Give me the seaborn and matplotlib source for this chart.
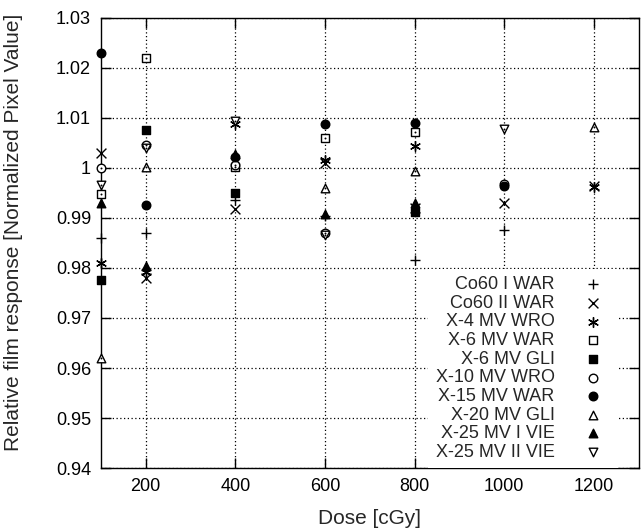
import matplotlib
matplotlib.use("Agg")
import matplotlib.pyplot as plt
from matplotlib.ticker import FormatStrFormatter
import seaborn as sns

# dose points and relative response for each beam / centre
co60_1_dose = [100, 200, 400, 600, 800, 1000]
co60_1_resp = [0.986, 0.987, 0.9936, 0.9903, 0.9816, 0.9876]

co60_2_dose = [100, 200, 400, 600, 800, 1000, 1200]
co60_2_resp = [1.003, 0.978, 0.9918, 1.001, 0.992, 0.993, 0.9963]

x4_wro_dose = [100, 200, 400, 600, 800, 1200]
x4_wro_resp = [0.981, 0.9792, 1.0088, 1.0016, 1.0044, 0.9962]

x6_war_dose = [100, 200, 400, 600, 800]
x6_war_resp = [0.9948, 1.022, 1.0002, 1.006, 1.0072]

x6_gli_dose = [100, 200, 400, 800]
x6_gli_resp = [0.9776, 1.0076, 0.995, 0.9912]

x10_wro_dose = [100, 200, 400, 600, 1000]
x10_wro_resp = [1.0, 1.0046, 1.0005, 0.987, 0.9967]

x15_war_dose = [100, 200, 400, 600, 800, 1000]
x15_war_resp = [1.023, 0.9926, 1.0022, 1.0088, 1.009, 0.9963]

x20_gli_dose = [100, 200, 600, 800, 1200]
x20_gli_resp = [0.962, 1.0002, 0.996, 0.9994, 1.0082]

x25_1_dose = [100, 200, 400, 600, 800]
x25_1_resp = [0.993, 0.9804, 1.0027, 0.9908, 0.993]

x25_2_dose = [100, 200, 400, 600, 1000]
x25_2_resp = [0.9966, 1.004, 1.0094, 0.9866, 1.0078]

labels = ["Co60 I WAR", "Co60 II WAR", "X-4 MV WRO", "X-6 MV WAR", "X-6 MV GLI",
          "X-10 MV WRO", "X-15 MV WAR", "X-20 MV GLI", "X-25 MV I VIE", "X-25 MV II VIE"]

series = [
    (co60_1_dose, co60_1_resp, "+", None),
    (co60_2_dose, co60_2_resp, "x", None),
    (x4_wro_dose, x4_wro_resp, (6, 2, 0), None),
    (x6_war_dose, x6_war_resp, "s", "white"),
    (x6_gli_dose, x6_gli_resp, "s", "black"),
    (x10_wro_dose, x10_wro_resp, "o", "white"),
    (x15_war_dose, x15_war_resp, "o", "black"),
    (x20_gli_dose, x20_gli_resp, "^", "white"),
    (x25_1_dose, x25_1_resp, "^", "black"),
    (x25_2_dose, x25_2_resp, "v", "white"),
]

sns.set_theme(style="ticks")
plt.rcParams["font.family"] = ["Liberation Sans", "DejaVu Sans"]

fig = plt.figure(figsize=(6.42, 5.29), dpi=100)
ax = fig.add_axes([0.157, 0.1153, 0.838, 0.8507])

for lab, (x, y, m, fc) in zip(labels, series):
    kw = dict(x=x, y=y, marker=m, s=50, color="black", linewidth=1.0,
              label=lab, ax=ax, clip_on=False, zorder=3)
    if fc is not None:
        kw["facecolor"] = fc
        kw["edgecolor"] = "black"
        kw["s"] = 38
    sns.scatterplot(**kw)
    if fc == "white":
        # gnuplot style open points carry a small centre dot
        sns.scatterplot(x=x, y=y, marker="o", s=2, color="black", linewidth=0,
                        ax=ax, clip_on=False, zorder=4)

ax.set_xlim(100, 1300)
ax.set_ylim(0.94, 1.03)
ax.set_xticks([200, 400, 600, 800, 1000, 1200])
ax.set_yticks([0.94, 0.95, 0.96, 0.97, 0.98, 0.99, 1.0, 1.01, 1.02, 1.03])
ax.yaxis.set_major_formatter(FormatStrFormatter("%g"))
ax.tick_params(direction="in", length=7, width=1, colors="black", labelsize=13,
               top=True, right=True, pad=7)
for sp in ax.spines.values():
    sp.set_visible(True)
    sp.set_color("black")
    sp.set_linewidth(1.0)
ax.grid(True, color="black", linestyle=(0, (1, 2)), linewidth=0.9)
ax.set_axisbelow(True)

ax.set_xlabel("Dose [cGy]", fontsize=15, labelpad=10)
ax.set_ylabel("Relative film response [Normalized Pixel Value]", fontsize=15)
ax.yaxis.set_label_coords(-0.145, 0.524)

leg = ax.legend(loc="lower right", bbox_to_anchor=(1 - 21 / 538, 0), borderaxespad=0,
                markerfirst=False, frameon=True, fontsize=13,
                labelspacing=0.09, handletextpad=1.1, borderpad=0.4,
                fancybox=False, framealpha=1.0)
leg.get_frame().set_edgecolor("white")
leg.get_frame().set_linewidth(0)
leg.set_zorder(5)

fig.savefig("out.png", dpi=100)
